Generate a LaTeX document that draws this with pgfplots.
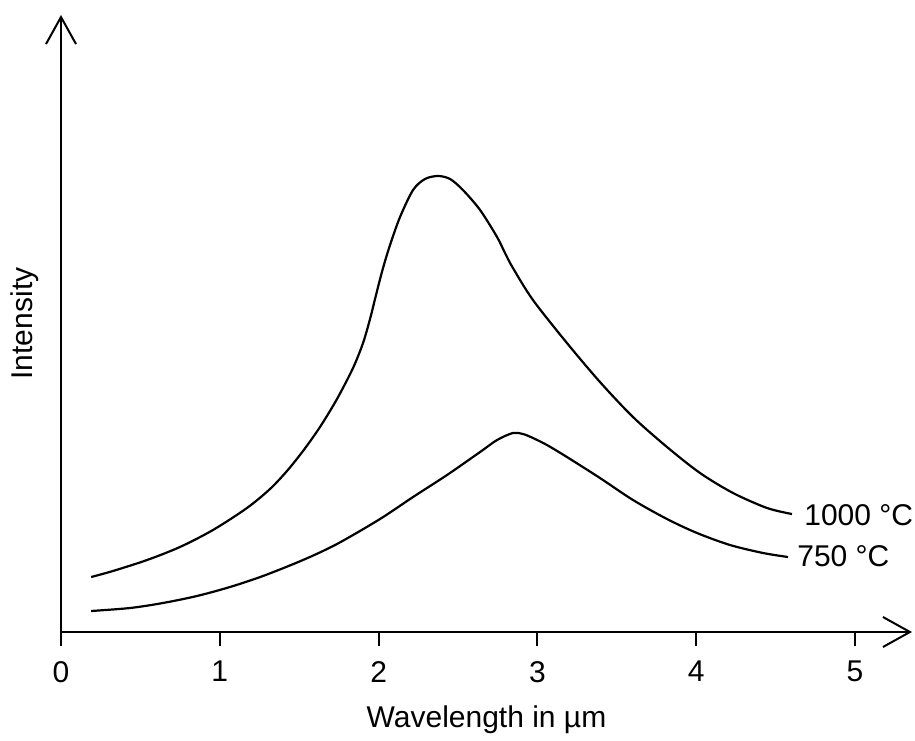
\documentclass[border=0pt]{standalone}
\usepackage{fontspec}
\setmainfont{Liberation Sans}
\usepackage{pgfplots}
\pgfplotsset{compat=1.18}
\usetikzlibrary{arrows.meta}

\begin{document}
\begin{tikzpicture}[font=\fontsize{15}{17}\selectfont]
\begin{axis}[
  scale only axis,
  width=425.5pt,height=308.5pt,
  xmin=0,xmax=5.359,ymin=0,ymax=617,
  axis lines=left,
  axis line style={line width=1pt,-{Straight Barb[length=13.5pt,width=15pt,line width=1pt]}},
  xtick={0,1,2,3,4,5},
  ytick=\empty,
  tick align=outside,
  major tick length=7pt,
  tick style={line width=1pt,black},
  xticklabel style={yshift=-4pt},
  /pgf/number format/assume math mode=true,
  xlabel={Wavelength in µm},
  ylabel={Intensity},
  xlabel style={at={(axis description cs:0.5,-0.142)},anchor=center},
  ylabel style={at={(axis description cs:-0.0423,0.5)},anchor=center},
  clip=false,
]
% 1000 C
\addplot[smooth,tension=0.5,line width=1.1pt,black] coordinates {
 (0.190,55) (0.327,61) (0.542,72) (0.749,85) (0.957,102) (1.171,124)
 (1.316,143) (1.423,161) (1.524,181) (1.631,205) (1.738,233) (1.839,264)
 (1.902,289) (1.946,313) (1.990,341) (2.028,364) (2.072,387) (2.135,415)
 (2.217,442) (2.292,453) (2.374,456) (2.450,453) (2.531,442) (2.639,422)
 (2.746,395) (2.796,379) (2.846,364) (2.972,332) (3.186,289) (3.394,250)
 (3.602,215) (3.816,185) (4.024,159) (4.232,139) (4.446,124) (4.603,118)
};
% 750 C
\addplot[smooth,tension=0.5,line width=1.1pt,black] coordinates {
 (0.190,21) (0.435,24) (0.642,29) (0.856,36) (1.064,45) (1.272,56)
 (1.524,72) (1.738,88) (2.009,113) (2.217,135) (2.431,157) (2.639,180)
 (2.746,192) (2.846,199) (2.909,198) (2.972,194) (3.060,187) (3.186,175)
 (3.394,154) (3.602,132) (3.816,113) (4.005,99) (4.213,87) (4.421,79)
 (4.578,75)
};
\node[anchor=west,inner sep=0pt,xshift=6pt] at (axis cs:4.603,117) {1000 °C};
\node[anchor=west,inner sep=0pt,xshift=4.5pt] at (axis cs:4.578,76) {750 °C};
\coordinate (O) at (axis cs:0,0);
\end{axis}
\path (O) ++(-30.5pt,-51.5pt) rectangle ++(457.5pt,367.5pt);
\end{tikzpicture}
\end{document}
